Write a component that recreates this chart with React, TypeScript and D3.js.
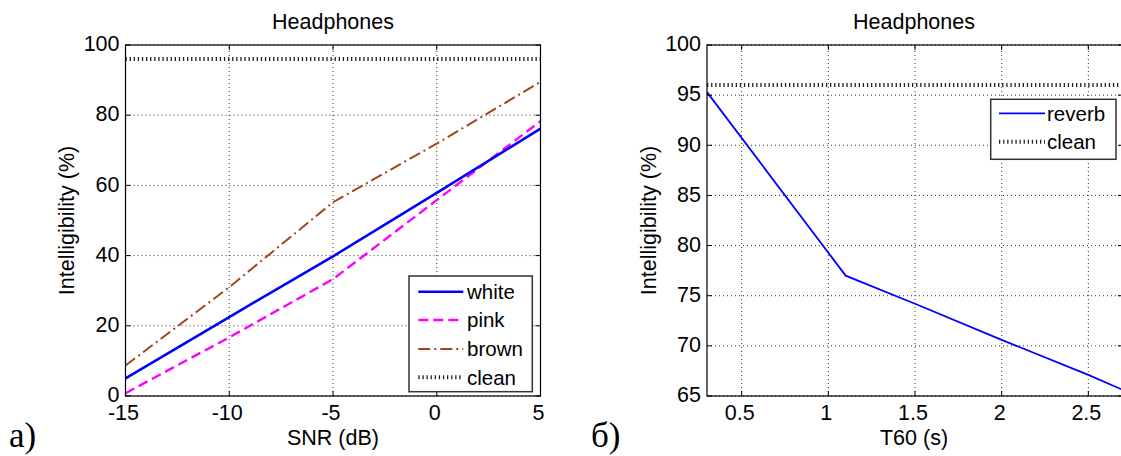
import React from "react";
import * as d3 from "d3";

// ---- Data: panel a) ----
const snr = [-15, -10, -5, 0, 5];
const whiteVals = [5, 22.5, 39.8, 57.9, 76.2];
const pinkVals = [0.8, 16.7, 33.3, 55.8, 78.3];
const brownVals = [8.7, 31, 55.2, 71.9, 89.5];
const cleanA = 96;
const xTicksA = [-15, -10, -5, 0, 5];
const yTicksA = [0, 20, 40, 60, 80, 100];
const legendA = ["white", "pink", "brown", "clean"];

// ---- Data: panel б) ----
const t60 = [0.3, 1.1, 1.5, 2.0, 2.5, 2.7];
const reverbVals = [95.3, 77.0, 74.2, 70.6, 67.1, 65.6];
const cleanB = 96;
const xTicksB = [0.5, 1, 1.5, 2, 2.5];
const yTicksB = [65, 70, 75, 80, 85, 90, 95, 100];
const legendB = ["reverb", "clean"];

const FONT = "'Liberation Sans', Arial, Helvetica, sans-serif";
const SERIF = "'Liberation Serif', 'Times New Roman', serif";
const FS = 21.5;

const styles: Record<string, { stroke: string; width: number; dash?: string }> = {
  white: { stroke: "#0000ff", width: 2.6 },
  pink: { stroke: "#ff00ff", width: 2.4, dash: "10,5" },
  brown: { stroke: "#a3441a", width: 2, dash: "12,4,2,4" },
  clean: { stroke: "#222", width: 4, dash: "1.3,2.8" },
  reverb: { stroke: "#0000ff", width: 1.8 },
};

type Panel = {
  x: d3.ScaleLinear<number, number>;
  y: d3.ScaleLinear<number, number>;
  xTicks: number[];
  yTicks: number[];
};

function Grid({ x, y, xTicks, yTicks }: Panel) {
  const [x0, x1] = x.range();
  const [y0, y1] = y.range();
  return (
    <g>
      {xTicks.map((t) => (
        <line key={"gx" + t} x1={x(t)} x2={x(t)} y1={y0} y2={y1} stroke="#333" strokeWidth={1} strokeDasharray="1,3" />
      ))}
      {yTicks.map((t) => (
        <line key={"gy" + t} x1={x0} x2={x1} y1={y(t)} y2={y(t)} stroke="#333" strokeWidth={1} strokeDasharray="1,3" />
      ))}
    </g>
  );
}

function Axes({ x, y, xTicks, yTicks }: Panel) {
  const [x0, x1] = x.range();
  const [y0, y1] = y.range();
  const tl = 5;
  return (
    <g fontFamily={FONT} fontSize={FS} fill="#000">
      <rect x={x0} y={y1} width={x1 - x0} height={y0 - y1} fill="none" stroke="#000" strokeWidth={1.2} />
      {xTicks.map((t) => (
        <g key={"tx" + t}>
          <line x1={x(t)} x2={x(t)} y1={y0} y2={y0 - tl} stroke="#000" />
          <line x1={x(t)} x2={x(t)} y1={y1} y2={y1 + tl} stroke="#000" />
          <text x={x(t) - 2} y={419.5} textAnchor="middle">{String(t)}</text>
        </g>
      ))}
      {yTicks.map((t) => (
        <g key={"ty" + t}>
          <line x1={x0} x2={x0 + tl} y1={y(t)} y2={y(t)} stroke="#000" />
          <line x1={x1} x2={x1 - tl} y1={y(t)} y2={y(t)} stroke="#000" />
          <text x={x0 - 6} y={y(t) - 1.5} dy="0.36em" textAnchor="end">{String(t)}</text>
        </g>
      ))}
    </g>
  );
}

function Legend({ names, bx, by, bw, bh, lx0, lx1, ys, tx }: { names: string[]; bx: number; by: number; bw: number; bh: number; lx0: number; lx1: number; ys: number[]; tx: number }) {
  return (
    <g>
      <rect x={bx} y={by} width={bw} height={bh} fill="#fff" stroke="#333" strokeWidth={1.5} />
      {names.map((n, i) => {
        const s = styles[n];
        return (
          <g key={n}>
            <line x1={lx0} x2={lx1} y1={ys[i]} y2={ys[i]} stroke={s.stroke} strokeWidth={s.width} strokeDasharray={s.dash} />
            <text x={tx} y={ys[i]} dy="0.36em" fontFamily={FONT} fontSize={20.5}>{n}</text>
          </g>
        );
      })}
    </g>
  );
}

export default function App() {
  const xA = d3.scaleLinear().domain([-15, 5]).range([125.5, 540.5]);
  const yA = d3.scaleLinear().domain([0, 100]).range([396, 45]);
  const xB = d3.scaleLinear().domain([0.3, 2.7]).range([707, 1123]);
  const yB = d3.scaleLinear().domain([65, 100]).range([396, 45]);

  const lineA = (vals: number[]) =>
    d3.line<number>().x((_, i) => xA(snr[i])).y((v) => yA(v))(vals) || "";
  const lineB = d3.line<number>().x((_, i) => xB(t60[i])).y((v) => yB(v))(reverbVals) || "";

  const seriesA: [string, number[]][] = [
    ["brown", brownVals],
    ["pink", pinkVals],
    ["white", whiteVals],
  ];

  return (
    <svg width={1121} height={456} style={{ position: "absolute", left: 0, top: 0, background: "#fff" }}>
      <rect x={0} y={0} width={1121} height={456} fill="#fff" />
      {/* Panel a */}
      <Grid x={xA} y={yA} xTicks={xTicksA} yTicks={yTicksA} />
      <line x1={xA(-15)} x2={xA(5)} y1={yA(cleanA)} y2={yA(cleanA)} stroke={styles.clean.stroke} strokeWidth={styles.clean.width} strokeDasharray={styles.clean.dash} />
      {seriesA.map(([n, v]) => (
        <path key={n} d={lineA(v)} fill="none" stroke={styles[n].stroke} strokeWidth={styles[n].width} strokeDasharray={styles[n].dash} />
      ))}
      <Axes x={xA} y={yA} xTicks={xTicksA} yTicks={yTicksA} />
      <Legend names={legendA} bx={409} by={276} bw={123.3} bh={115.7} lx0={418.3} lx1={463.3} ys={[291.7, 320, 349, 377.3]} tx={467} />
      <text x={333} y={29} textAnchor="middle" fontFamily={FONT} fontSize={FS}>Headphones</text>
      <text x={333} y={444.5} textAnchor="middle" fontFamily={FONT} fontSize={FS}>SNR (dB)</text>
      <text transform="translate(66,220.5) rotate(-90)" dy="0.36em" textAnchor="middle" fontFamily={FONT} fontSize={FS}>Intelligibility (%)</text>
      <text x={9} y={447} fontFamily={SERIF} fontSize={35}>a)</text>

      {/* Panel б */}
      <Grid x={xB} y={yB} xTicks={xTicksB} yTicks={yTicksB} />
      <line x1={xB(0.3)} x2={xB(2.7)} y1={yB(cleanB)} y2={yB(cleanB)} stroke={styles.clean.stroke} strokeWidth={styles.clean.width} strokeDasharray={styles.clean.dash} />
      <path d={lineB} fill="none" stroke={styles.reverb.stroke} strokeWidth={styles.reverb.width} />
      <Axes x={xB} y={yB} xTicks={xTicksB} yTicks={yTicksB} />
      <Legend names={legendB} bx={990.7} by={99.3} bw={125.3} bh={60} lx0={999} lx1={1045} ys={[113.3, 141.7]} tx={1047} />
      <text x={914} y={29} textAnchor="middle" fontFamily={FONT} fontSize={FS}>Headphones</text>
      <text x={914} y={444.5} textAnchor="middle" fontFamily={FONT} fontSize={FS}>T60 (s)</text>
      <text transform="translate(648,220.5) rotate(-90)" dy="0.36em" textAnchor="middle" fontFamily={FONT} fontSize={FS}>Intelligibility (%)</text>
      <text x={591} y={447} fontFamily={SERIF} fontSize={35}>б)</text>
    </svg>
  );
}
